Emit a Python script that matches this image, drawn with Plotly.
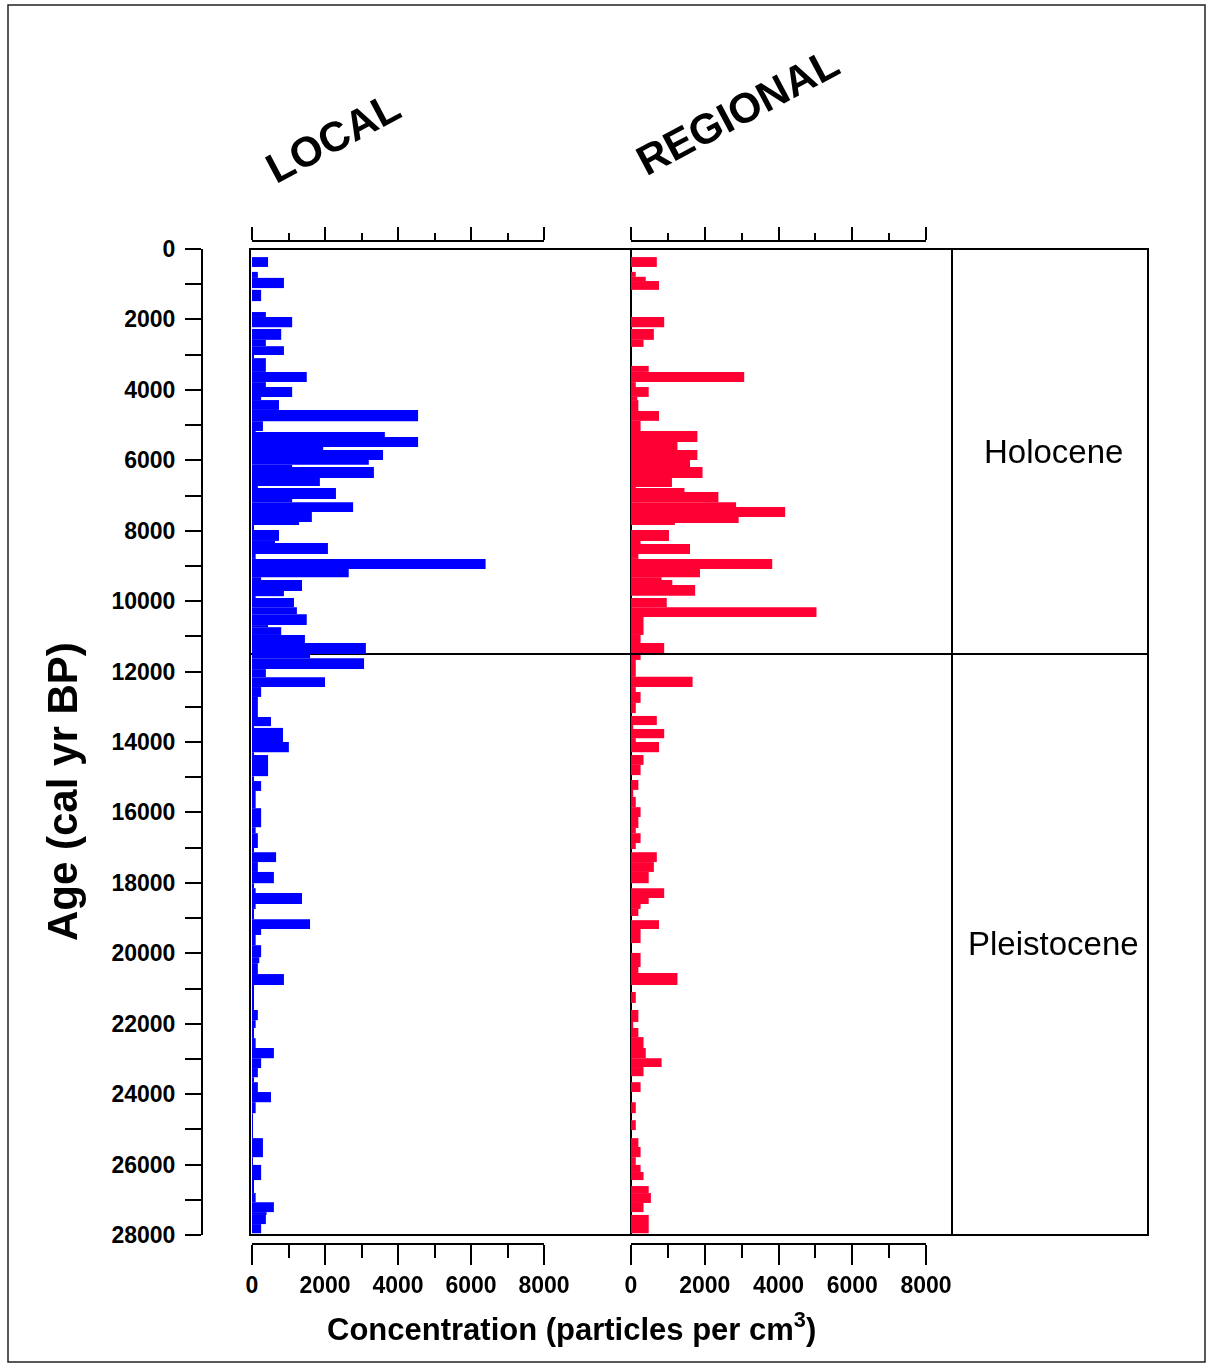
import plotly.graph_objects as go

# ---------------- data (ages in cal yr BP, concentrations in particles per cm3) -------------
local_age_top = [
    230, 510, 650, 820, 1110, 1160, 1480, 1790, 1930, 2220,
    2270, 2580, 2760, 3010, 3100, 3490, 3780, 3920, 4200, 4290,
    4570, 4890, 5170, 5200, 5340, 5620, 5710, 5990, 6130, 6190,
    6500, 6730, 6790, 7100, 7190, 7470, 7750, 7840, 7980, 8290,
    8350, 8660, 8800, 9090, 9320, 9400, 9710, 9860, 9910, 10170,
    10370, 10680, 10740, 10960, 11190, 11500, 11620, 11930, 12160, 12440,
    12720, 13290, 13550, 13600, 14000, 14290, 14370, 14970, 15110, 15390,
    15880, 16420, 16590, 17010, 17130, 17410, 17690, 18010, 18150, 18290,
    18600, 18740, 19030, 19310, 19480, 19770, 20110, 20280, 20590, 20900,
    21610, 21900, 22120, 22410, 22690, 22980, 23260, 23520, 23660, 23940,
    24230, 24540, 25250, 25790, 26010, 26440, 26810, 27070, 27350, 27430,
    27690,
]
local_age_end = 27950
local_values = [
    440, 0, 160, 875, 0, 250, 0, 380, 1100, 0,
    800, 380, 875, 50, 380, 1500, 380, 1100, 250, 740,
    4550, 300, 100, 3640, 4550, 1950, 3590, 3200, 1100, 3340,
    1860, 160, 2300, 1100, 2770, 1640, 1290, 30, 740, 630,
    2080, 100, 6400, 2650, 250, 1370, 875, 100, 1150, 1230,
    1500, 440, 800, 1450, 3120, 1590, 3070, 380, 2000, 250,
    160, 520, 50, 850, 1010, 50, 440, 50, 250, 100,
    250, 100, 160, 50, 660, 160, 600, 50, 100, 1370,
    100, 50, 1590, 250, 100, 250, 200, 160, 875, 30,
    160, 100, 50, 100, 600, 250, 160, 50, 160, 520,
    100, 20, 300, 20, 250, 50, 100, 600, 400, 380,
    250,
]

regional_age_top = [
    230, 510, 650, 790, 910, 1160, 1930, 2220, 2270, 2580,
    2780, 3320, 3490, 3780, 3920, 4200, 4290, 4600, 4880, 5170,
    5480, 5710, 5990, 6190, 6500, 6760, 6790, 6900, 7190, 7330,
    7610, 7780, 7840, 7980, 8290, 8380, 8660, 8800, 9090, 9320,
    9400, 9540, 9850, 9910, 10170, 10450, 10960, 11190, 11470, 11670,
    12150, 12440, 12580, 12890, 13180, 13260, 13520, 13630, 13890, 14000,
    14290, 14370, 14650, 14940, 15080, 15360, 15560, 15850, 16130, 16440,
    16590, 16870, 17040, 17130, 17410, 17690, 18010, 18150, 18430, 18600,
    18740, 18940, 19060, 19310, 19710, 19990, 20390, 20560, 20900, 21100,
    21410, 21610, 21950, 22120, 22380, 22690, 22980, 23230, 23490, 23660,
    23940, 24230, 24540, 24740, 25020, 25250, 25500, 25790, 26010, 26210,
    26440, 26610, 26810, 27090, 27350, 27430,
]
regional_age_end = 27950
regional_values = [
    700, 0, 130, 400, 760, 0, 900, 0, 620, 340,
    0, 480, 3070, 130, 480, 170, 200, 760, 260, 1800,
    1260, 1800, 1600, 1940, 1110, 130, 1450, 2370, 2850, 4180,
    2920, 1190, 0, 1030, 260, 1600, 200, 3830, 1870, 830,
    1120, 1740, 0, 970, 5030, 340, 260, 900, 260, 130,
    1670, 130, 260, 130, 0, 700, 60, 900, 130, 760,
    0, 340, 260, 0, 200, 60, 130, 260, 200, 130,
    260, 130, 0, 700, 620, 480, 0, 900, 480, 260,
    200, 0, 760, 260, 0, 260, 200, 1260, 0, 130,
    0, 200, 60, 200, 340, 400, 830, 340, 0, 260,
    0, 130, 0, 130, 0, 200, 260, 130, 260, 340,
    0, 480, 540, 340, 0, 480,
]

holocene_boundary = 11500
age_ticks = list(range(0, 28001, 2000))
conc_ticks = [0, 2000, 4000, 6000, 8000]
panel_titles = ["LOCAL", "REGIONAL"]
zone_labels = ["Holocene", "Pleistocene"]


def bins(tops, end):
    bottoms = tops[1:] + [end]
    mids = [(a + b) / 2 for a, b in zip(tops, bottoms)]
    widths = [b - a for a, b in zip(tops, bottoms)]
    return mids, widths


# ---------------- geometry helpers (page pixels -> paper) ----------------
W, H = 1208, 1367
ML, MR, MT, MB = 202, 60, 241, 123
PW, PH = W - ML - MR, H - MT - MB


def px(x):
    return (x - ML) / PW


def py(y):
    return (H - MB - y) / PH


FONT = "Liberation Sans, Arial, sans-serif"
NARROW = "Liberation Sans Narrow, Arial Narrow, Liberation Sans, sans-serif"
BLUE = "#0000FF"
RED = "#FF0033"

lm, lw = bins(local_age_top, local_age_end)
rm, rw = bins(regional_age_top, regional_age_end)

fig = go.Figure()
fig.add_trace(go.Bar(x=local_values, y=lm, width=lw, orientation="h",
                     marker=dict(color=BLUE, line=dict(width=0)),
                     xaxis="x", yaxis="y", showlegend=False))
fig.add_trace(go.Bar(x=regional_values, y=rm, width=rw, orientation="h",
                     marker=dict(color=RED, line=dict(width=0)),
                     xaxis="x2", yaxis="y", showlegend=False))
# invisible companions so the top tick axes are drawn
fig.add_trace(go.Scatter(x=local_values, y=lm, mode="markers", opacity=0,
                         xaxis="x3", yaxis="y", showlegend=False, hoverinfo="skip"))
fig.add_trace(go.Scatter(x=regional_values, y=rm, mode="markers", opacity=0,
                         xaxis="x4", yaxis="y", showlegend=False, hoverinfo="skip"))

tickfont = dict(family=NARROW, size=23, color="black", weight="bold")


def bottom_axis(dom):
    return dict(domain=dom, anchor="free", position=0, range=[0, 8000],
                tickmode="array", tickvals=conc_ticks, ticktext=[str(v) for v in conc_ticks],
                ticks="outside", ticklen=20, tickwidth=2, tickcolor="black",
                showline=True, linewidth=2, linecolor="black",
                showgrid=False, zeroline=False, tickfont=tickfont, ticklabelstandoff=0,
                minor=dict(tickmode="linear", tick0=0, dtick=1000, ticks="outside",
                           ticklen=13, tickwidth=2, tickcolor="black", showgrid=False))


def top_axis(over):
    return dict(overlaying=over, side="top", anchor="free", position=1, range=[0, 8000],
                tickmode="array", tickvals=conc_ticks, showticklabels=False,
                ticks="outside", ticklen=13, tickwidth=2, tickcolor="black",
                showline=True, linewidth=2, linecolor="black",
                showgrid=False, zeroline=False,
                minor=dict(tickmode="linear", tick0=0, dtick=1000, ticks="outside",
                           ticklen=7, tickwidth=2, tickcolor="black", showgrid=False))


dom_local = [px(252), px(544)]
dom_reg = [px(631), px(926)]

fig.update_layout(
    width=W, height=H,
    margin=dict(l=ML, r=MR, t=MT, b=MB, pad=0),
    paper_bgcolor="white", plot_bgcolor="rgba(0,0,0,0)",
    barmode="overlay", showlegend=False,
    xaxis=bottom_axis(dom_local),
    xaxis2=bottom_axis(dom_reg),
    xaxis3=top_axis("x"),
    xaxis4=top_axis("x2"),
    yaxis=dict(domain=[py(1235), py(249)], anchor="free", position=0, side="left",
               range=[28000, 0], tickmode="array", tickvals=age_ticks,
               ticktext=[str(v) for v in age_ticks],
               ticks="outside", ticklen=16, tickwidth=2, tickcolor="black",
               showline=True, linewidth=2, linecolor="black",
               showgrid=False, zeroline=False, tickfont=tickfont, ticklabelstandoff=5,
               minor=dict(tickmode="linear", tick0=0, dtick=1000, ticks="outside",
                          ticklen=16, tickwidth=2, tickcolor="black", showgrid=False)),
)

line_k = dict(color="black", width=2)
shapes = [
    # outer frame of the figure
    dict(type="rect", xref="paper", yref="paper", x0=px(8), x1=px(1205), y0=py(1362), y1=py(5),
         line=dict(color="#222", width=1.5), layer="above"),
    # panel box
    dict(type="rect", xref="paper", yref="paper", x0=px(250), x1=px(1148), y0=py(1235), y1=py(249),
         line=line_k, layer="below"),
    dict(type="line", xref="paper", yref="paper", x0=px(631), x1=px(631), y0=py(1235), y1=py(249),
         line=line_k, layer="below"),
    dict(type="line", xref="paper", yref="paper", x0=px(952), x1=px(952), y0=py(1235), y1=py(249),
         line=line_k, layer="above"),
    # Holocene / Pleistocene boundary
    dict(type="line", xref="paper", yref="y", x0=px(250), x1=px(631),
         y0=holocene_boundary, y1=holocene_boundary, line=line_k, layer="below"),
    dict(type="line", xref="paper", yref="y", x0=px(631), x1=px(1148),
         y0=holocene_boundary, y1=holocene_boundary, line=line_k, layer="above"),
]
fig.update_layout(shapes=shapes)

ann = []
ann.append(dict(text="<b>Age (cal yr BP)</b>", x=px(63), y=py(792), xref="paper", yref="paper",
                showarrow=False, textangle=-90, font=dict(family=FONT, size=42, color="black"),
                xanchor="center", yanchor="middle"))
ann.append(dict(text="<b>Concentration (particles per cm<sup>3</sup>)</b>", x=px(571), y=py(1327),
                xref="paper", yref="paper", showarrow=False,
                font=dict(family=FONT, size=31, color="black"), xanchor="center", yanchor="middle"))
ann.append(dict(text="<b>%s</b>" % panel_titles[0], x=px(333), y=py(138), xref="paper", yref="paper",
                showarrow=False, textangle=-28, font=dict(family=FONT, size=42, color="black"),
                xanchor="center", yanchor="middle"))
ann.append(dict(text="<b>%s</b>" % panel_titles[1], x=px(738), y=py(112), xref="paper", yref="paper",
                showarrow=False, textangle=-28, font=dict(family=FONT, size=42, color="black"),
                xanchor="center", yanchor="middle"))
ann.append(dict(text=zone_labels[0], x=px(1053), y=py(452), xref="paper", yref="paper",
                showarrow=False, font=dict(family=FONT, size=33, color="black"),
                xanchor="center", yanchor="middle"))
ann.append(dict(text=zone_labels[1], x=px(1053), y=py(943), xref="paper", yref="paper",
                showarrow=False, font=dict(family=FONT, size=33, color="black"),
                xanchor="center", yanchor="middle"))
fig.update_layout(annotations=ann)

fig.write_html("out.html", config={"displayModeBar": False},
               post_script="document.body.style.margin='0';document.body.style.overflow='hidden';")
